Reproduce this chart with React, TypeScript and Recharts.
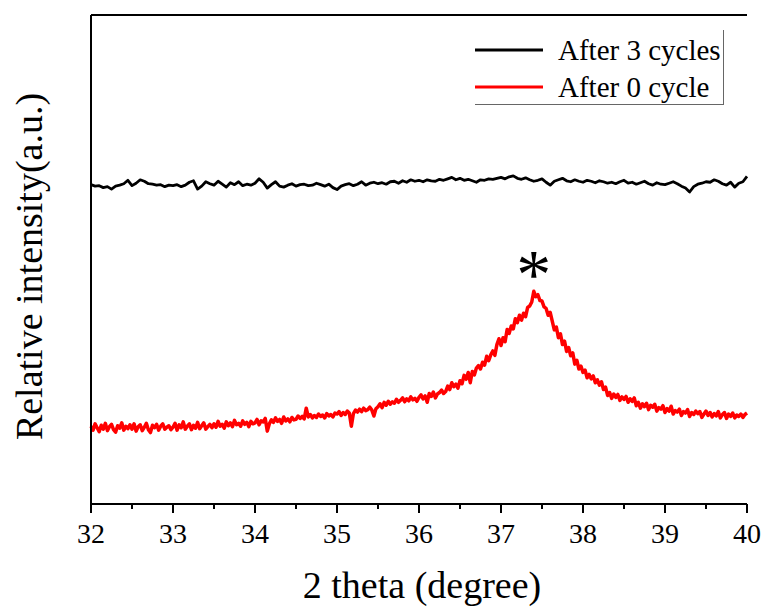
import * as React from 'react';
import { LineChart, Line, XAxis, YAxis, Legend, ReferenceDot } from 'recharts';

const FONT = '"Liberation Serif", "Times New Roman", serif';

// sampling of the two scans (2 theta, degree)
const thetaStart = 32;
const stepAfter3 = 0.05;
const stepAfter0 = 0.025;
const xTicks = [32, 32.5, 33, 33.5, 34, 34.5, 35, 35.5, 36, 36.5, 37, 37.5, 38, 38.5, 39, 39.5, 40];

const seriesNames = ['After 3 cycles', 'After 0 cycle'];
const seriesColors = ['#000000', '#ff0000'];

// relative intensity (a.u.)
const after3Cycles = [
  65.3, 65.0, 65.1, 64.7, 64.9, 64.4, 65.0, 65.2, 65.5, 66.2,
  65.1, 65.6, 66.3, 66.0, 65.5, 65.4, 65.2, 65.3, 64.9, 65.2,
  65.1, 65.3, 64.9, 65.2, 65.8, 66.1, 64.4, 65.0, 65.9, 65.5,
  65.2, 66.0, 65.4, 64.8, 65.7, 65.3, 65.9, 65.1, 65.4, 65.2,
  65.6, 66.5, 65.8, 64.6, 65.3, 65.9, 65.0, 64.8, 65.2, 65.5,
  65.0, 65.3, 65.4, 65.1, 65.2, 65.6, 65.3, 65.0, 65.4, 64.7,
  64.3, 65.0, 65.3, 65.5, 65.1, 65.4, 65.9, 65.2, 65.6, 65.8,
  65.5, 65.7, 65.4, 65.9, 66.0, 65.6, 66.1, 65.8, 66.3, 66.0,
  66.2, 65.9, 66.3, 66.1, 66.0, 66.4, 66.2, 66.5, 66.8, 66.3,
  66.6, 66.2, 66.4, 66.1, 65.8, 66.3, 66.2, 66.5, 66.4, 66.6,
  66.8, 66.5, 66.9, 67.1, 66.6, 66.4, 66.7, 66.3, 66.0, 66.2,
  66.5, 65.8, 65.2, 66.0, 66.3, 66.6, 66.1, 65.9, 66.3, 66.0,
  65.8, 66.2, 66.0, 65.7, 66.1, 65.9, 65.6, 65.8, 65.5, 65.9,
  66.2, 65.6, 65.8, 65.4, 65.7, 66.0, 65.5, 65.2, 65.7, 65.4,
  65.3, 65.6, 65.9, 65.5, 65.0, 64.6, 63.8, 64.9, 65.4, 65.6,
  65.9, 65.8, 66.3, 66.0, 65.5, 65.2, 65.8, 64.8, 65.6, 65.9,
  67.0,
];

const after0Cycle = [
  15.9, 15.1, 16.4, 15.6, 14.8, 16.1, 15.3, 16.5, 15.0, 15.8, 16.3, 15.2, 14.7, 16.0, 15.5, 16.6, 15.1, 15.9, 15.4, 16.2,
  15.3, 16.4, 14.9, 15.8, 16.2, 15.0, 15.7, 16.5, 15.2, 14.6, 16.1, 15.6, 16.3, 15.1, 15.9, 16.4, 15.3, 15.7, 16.0, 15.2,
  15.7, 16.5, 15.1, 16.2, 15.6, 16.8, 15.3, 15.9, 16.4, 15.2, 16.1, 15.5, 16.7, 15.4, 16.0, 16.6, 15.3, 15.8, 16.3, 15.6,
  16.4, 15.7, 16.9, 15.9, 16.3, 15.5, 16.8, 16.0, 16.6, 15.8, 17.1, 16.2, 16.5, 15.9, 17.0, 16.3, 16.7, 15.8, 16.9, 16.4,
  16.6, 17.3, 16.2, 17.0, 16.8, 17.5, 14.9, 16.4, 17.2, 16.7, 17.6, 16.9, 17.3, 16.5, 17.8, 17.0, 17.4, 16.8, 17.7, 17.2,
  17.3, 18.0, 17.5, 17.9, 17.4, 19.6, 17.8, 18.3, 17.6, 18.1, 17.7, 18.4, 17.9, 18.2, 17.6, 18.5, 18.0, 18.3, 17.8, 18.6,
  18.4, 18.9, 18.1, 18.7, 18.3, 19.0, 18.6, 15.9, 18.5, 19.2, 18.8, 19.4, 18.9, 19.6, 19.1, 19.3, 19.8, 19.2, 18.0, 19.5,
  19.9, 20.5, 19.7, 20.8, 20.2, 21.0, 20.4, 20.9, 20.6, 21.4, 20.8, 21.2, 21.7, 20.9, 21.5, 21.1, 21.9, 21.3, 21.6, 21.0,
  21.8, 22.3, 21.5, 22.1, 20.8, 22.6, 22.0, 22.9, 21.7, 22.5, 22.8, 23.3, 22.6, 23.0, 24.1, 23.4, 24.8, 24.0, 24.5, 23.7,
  25.2, 24.6, 26.3, 25.5, 26.9, 24.8, 27.1, 26.4, 27.8, 28.3, 27.6, 29.0, 28.4, 30.2, 29.3, 30.5, 31.3, 30.4, 32.6, 33.8,
  32.4, 34.0, 33.2, 35.7, 34.9, 36.4, 35.8, 37.9, 37.1, 38.6, 37.6, 39.0, 38.3, 40.2, 40.5, 41.3, 43.5, 42.4, 42.8, 41.6,
  41.5, 40.3, 40.0, 38.6, 39.2, 37.4, 35.6, 36.2, 34.0, 34.8, 32.6, 33.3, 31.2, 32.0, 30.3, 30.9, 28.6, 29.4, 27.6, 28.2,
  26.9, 27.4, 25.8, 26.5, 25.6, 26.2, 24.8, 25.4, 24.3, 25.0, 23.4, 23.9, 22.2, 22.8, 21.6, 22.5, 21.8, 22.4, 21.2, 21.9,
  21.4, 22.0, 20.8, 21.5, 21.0, 21.7, 20.1, 20.8, 19.6, 20.5, 19.9, 20.6, 19.3, 20.2, 19.8, 20.4, 19.0, 19.7, 19.4, 20.1,
  18.7, 19.5, 19.0, 20.0, 18.4, 19.1, 18.8, 19.4, 18.1, 18.9, 18.6, 19.3, 17.9, 18.7, 18.3, 19.0, 18.5, 18.9, 17.7, 18.4,
  19.0, 18.1, 18.7, 17.8, 18.5, 18.0, 18.9, 17.6, 18.3, 18.7, 17.5, 18.4, 17.9, 18.6, 17.6, 18.2, 17.9, 18.4, 17.7, 18.3,
  18.6,
];

// the peak marked with an asterisk
const peakTheta = 37.4;
const peakValue = 42.7;

const after3Data = after3Cycles.map((v, i) => ({
  theta: Math.round((thetaStart + i * stepAfter3) * 1000) / 1000,
  after3: v,
}));
const after0Data = after0Cycle.map((v, i) => ({
  theta: Math.round((thetaStart + i * stepAfter0) * 1000) / 1000,
  after0: v,
}));

const XTick = (props: any) => {
  const { x, y, payload } = props;
  const major = Number.isInteger(payload.value);
  return (
    <g>
      <line x1={x} x2={x} y1={y} y2={y + (major ? 9 : 5)} stroke="#000" strokeWidth={2} />
      {major && (
        <text x={x} y={y + 39} textAnchor="middle" fontFamily={FONT} fontSize={28} fill="#000">
          {payload.value}
        </text>
      )}
    </g>
  );
};

const LegendBox = (props: any) => {
  const items = [...(props.payload || [])].sort(
    (a: any, b: any) => seriesNames.indexOf(a.value) - seriesNames.indexOf(b.value)
  );
  return (
    <div
      style={{
        position: 'relative',
        width: 248,
        height: 74,
        borderRight: '1px solid #666',
        borderBottom: '1px solid #666',
        fontFamily: FONT,
        fontSize: 29,
        color: '#000',
      }}
    >
      {items.map((item: any, i: number) => (
        <React.Fragment key={item.value}>
          <svg style={{ position: 'absolute', left: 0, top: 18 + i * 37 }} width={68} height={4}>
            <line x1={0} x2={68} y1={2} y2={2} stroke={item.color} strokeWidth={3} />
          </svg>
          <span style={{ position: 'absolute', left: 83, top: 2 + i * 37, lineHeight: '36px', whiteSpace: 'nowrap' }}>
            {item.value}
          </span>
        </React.Fragment>
      ))}
    </div>
  );
};

export default function App() {
  return (
    <div style={{ position: 'absolute', left: 0, top: 0, background: '#fff' }}>
      <LineChart width={767} height={609} margin={{ top: 14, right: 20, left: 0, bottom: 5 }}>
        <XAxis
          xAxisId="bottom"
          type="number"
          dataKey="theta"
          domain={[32, 40]}
          ticks={xTicks}
          interval={0}
          height={100}
          tickSize={0}
          tickMargin={0}
          tickLine={false}
          tick={<XTick />}
          axisLine={{ stroke: '#000', strokeWidth: 2 }}
          allowDuplicatedCategory={false}
          label={{
            content: (p: any) => (
              <text
                x={p.viewBox.x + p.viewBox.width / 2 + 3}
                y={p.viewBox.y + 94}
                textAnchor="middle"
                fontFamily={FONT}
                fontSize={38}
                fill="#000"
              >
                2 theta (degree)
              </text>
            ),
          }}
        />
        <XAxis
          xAxisId="top"
          orientation="top"
          type="number"
          dataKey="theta"
          domain={[32, 40]}
          height={1}
          tick={false}
          tickLine={false}
          axisLine={{ stroke: '#000', strokeWidth: 2 }}
        />
        <YAxis
          yAxisId="left"
          type="number"
          domain={[0, 100]}
          width={91}
          tick={false}
          tickLine={false}
          axisLine={{ stroke: '#000', strokeWidth: 2 }}
          label={{
            content: (p: any) => {
              const cx = p.viewBox.x + 42;
              const cy = p.viewBox.y + p.viewBox.height / 2 + 7;
              return (
                <text
                  x={cx}
                  y={cy}
                  transform={`rotate(-90 ${cx} ${cy})`}
                  textAnchor="middle"
                  fontFamily={FONT}
                  fontSize={38}
                  fill="#000"
                >
                  Relative intensity(a.u.)
                </text>
              );
            },
          }}
        />
        <YAxis
          yAxisId="right"
          orientation="right"
          type="number"
          domain={[0, 100]}
          width={0}
          tick={false}
          tickLine={false}
          axisLine={{ stroke: '#000', strokeWidth: 2 }}
        />
        <Legend
          layout="horizontal"
          verticalAlign="middle"
          content={<LegendBox />}
          wrapperStyle={{ left: 475, top: 30, width: 250 }}
        />
        <Line
          xAxisId="bottom"
          yAxisId="left"
          type="linear"
          data={after3Data}
          dataKey="after3"
          name={seriesNames[0]}
          stroke={seriesColors[0]}
          strokeWidth={2.8}
          strokeLinejoin="round"
          dot={false}
          isAnimationActive={false}
        />
        <Line
          xAxisId="bottom"
          yAxisId="left"
          type="linear"
          data={after0Data}
          dataKey="after0"
          name={seriesNames[1]}
          stroke={seriesColors[1]}
          strokeWidth={3.5}
          strokeLinejoin="round"
          dot={false}
          isAnimationActive={false}
        />
        <ReferenceDot
          xAxisId="bottom"
          yAxisId="left"
          x={peakTheta}
          y={peakValue}
          r={0}
          fill="none"
          stroke="none"
          label={{
            content: (p: any) => (
              <text
                x={p.viewBox.x}
                y={p.viewBox.y + 3}
                textAnchor="middle"
                fontFamily={FONT}
                fontSize={70}
                fill="#000"
              >
                *
              </text>
            ),
          }}
        />
      </LineChart>
    </div>
  );
}
